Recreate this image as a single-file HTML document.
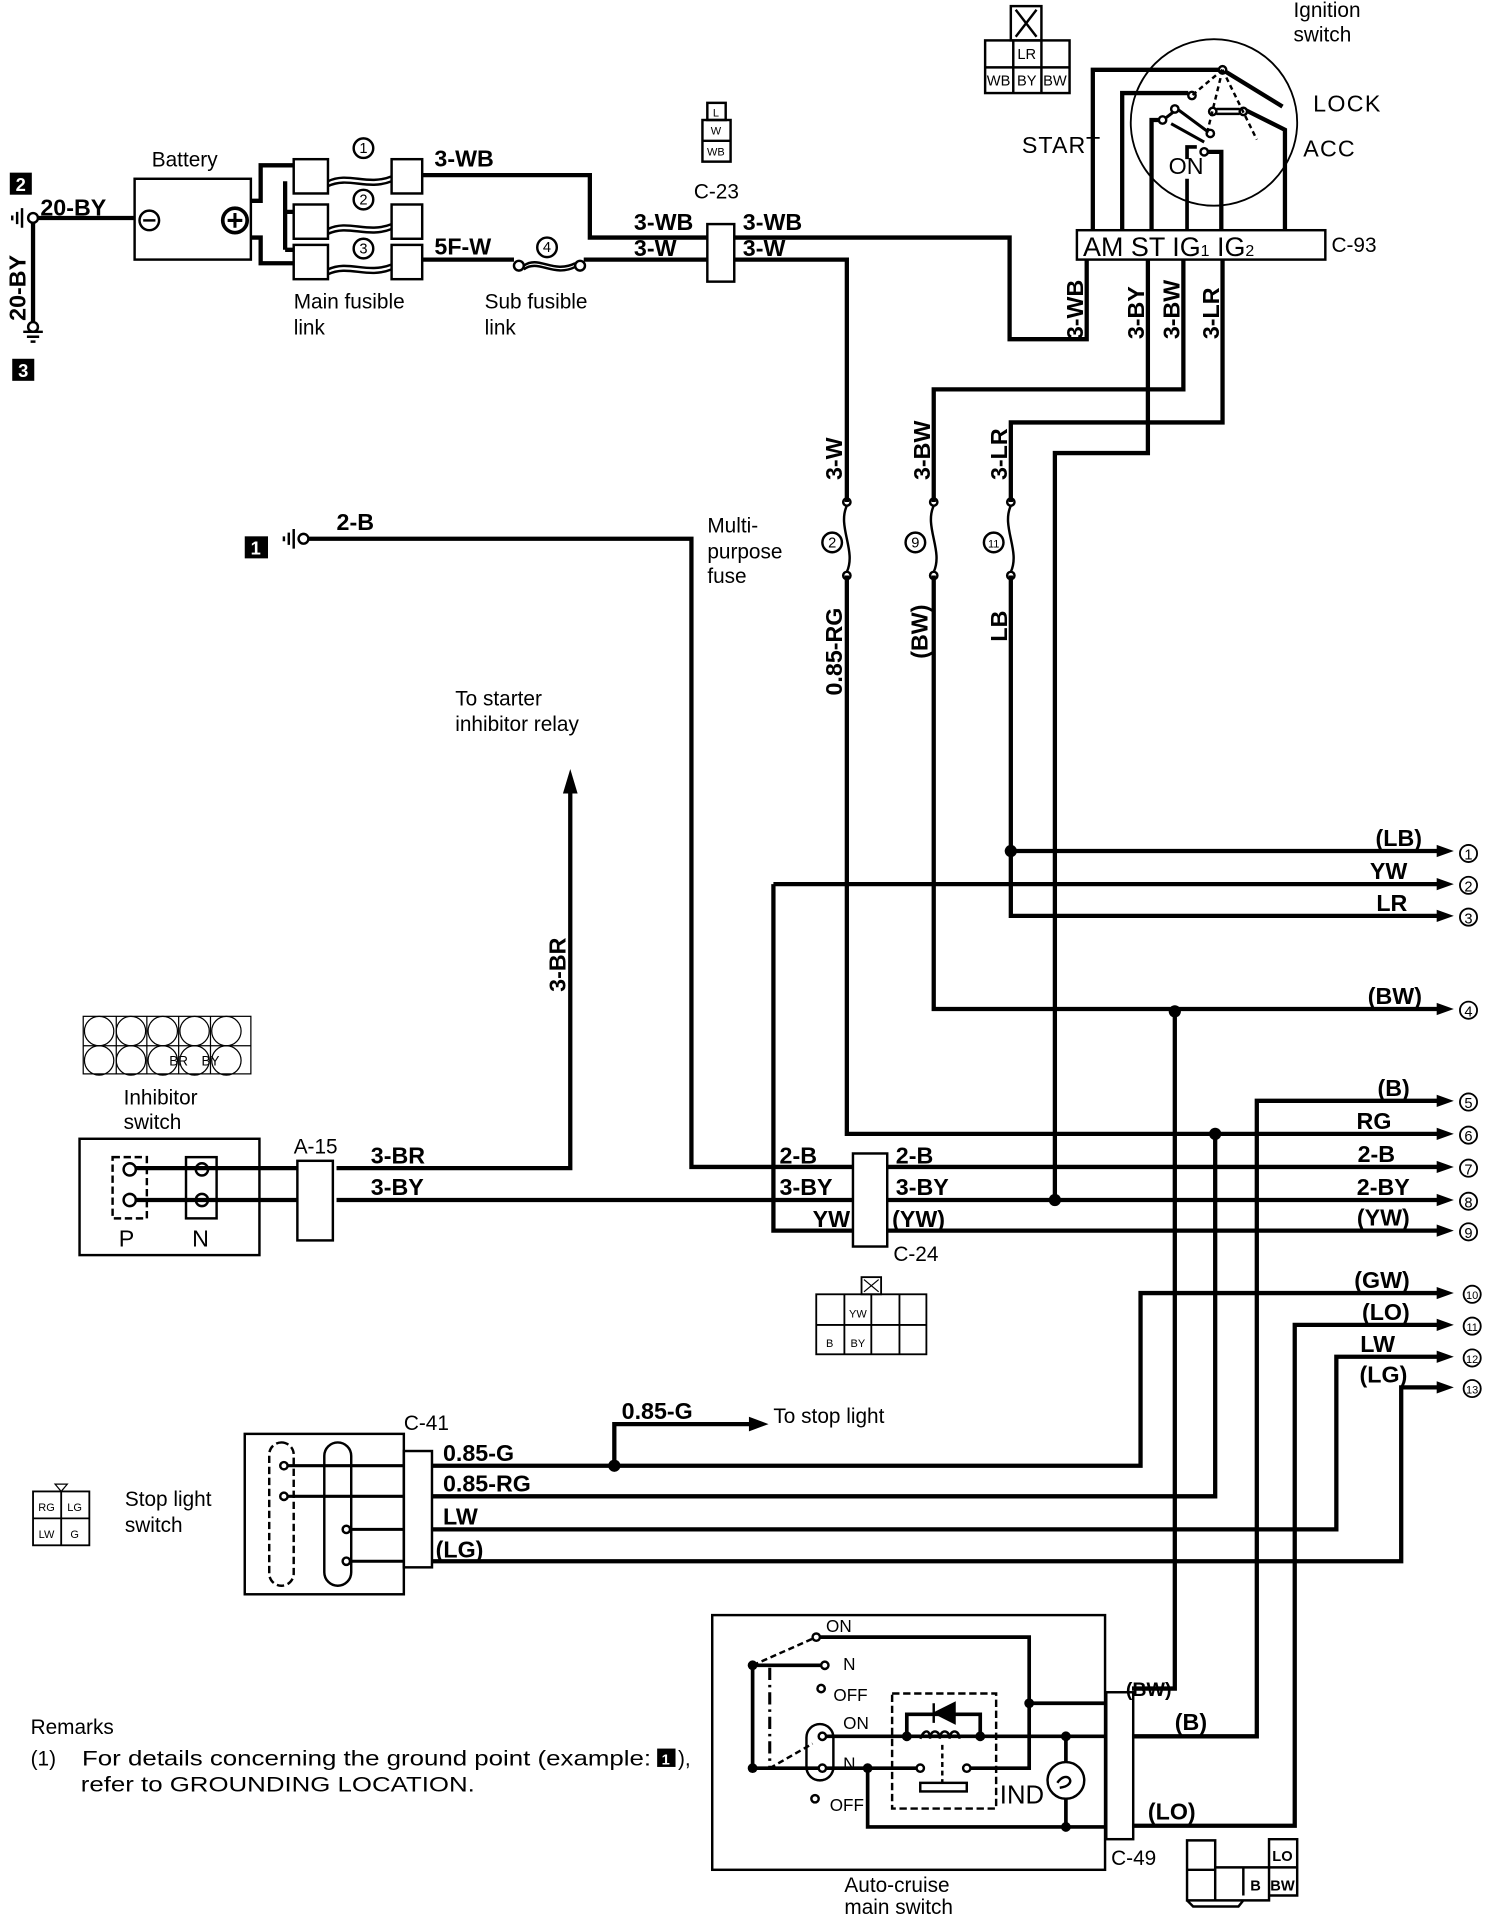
<!DOCTYPE html>
<html><head><meta charset="utf-8"><style>
html,body{margin:0;padding:0;background:#fff;}
svg{display:block;}
text{font-family:"Liberation Sans",sans-serif;fill:#000;}
.w{font-family:"DejaVu Sans Condensed","Liberation Sans Narrow","Liberation Sans",sans-serif;font-weight:bold;font-size:19px;}
.n{font-size:17px;}
.s{font-size:9px;}
.c{font-family:"DejaVu Sans Condensed","Liberation Sans",sans-serif;font-size:14px;}
</style></head><body>
<svg width="1504" height="1920" viewBox="0 0 1229 1568" preserveAspectRatio="none" xmlns="http://www.w3.org/2000/svg">
<g fill="none" stroke="#000" stroke-width="3.5" stroke-linejoin="miter">
<path d="M27 178 V265 M27 178 H110"/>
<path d="M205 164 H213 V135 H240 M205 194 H213 V215 H240 M233 148 V204 M233 173 H240 M233 204 H240"/>
<path d="M345 143 H482 V194 H578"/>
<path d="M345 212 H420 M477 212 H578"/>
<path d="M600 194 H825 V277 H888 V212"/>
<path d="M600 212 H692 V410 M692 470 V926 H1180"/>
<path d="M938 212 V370 H862 V980"/>
<path d="M967 212 V318 H763 V410 M763 470 V824 H1180"/>
<path d="M999 212 V345 H826 V410 M826 470 V748 H1180 M826 695 H1180"/>
<path d="M632 722 H1180 M632 722 V1005 H697 M725 1005 H1180"/>
<path d="M250 440 H565 V953 H697 M725 953 H1180"/>
<path d="M275 954 H466 V640 M275 980 H697 M725 980 H1180"/>
<path d="M110 954 H243 M110 980 H243"/>
<path d="M960 826 V1379 H925"/>
<path d="M1180 899 H1027 V1418 H925"/>
<path d="M993 926 V1222 H353"/>
<path d="M1180 1056 H932 V1197 H353"/>
<path d="M1180 1082 H1058 V1491 H925"/>
<path d="M1180 1108 H1092 V1249 H353"/>
<path d="M1180 1133 H1145 V1275 H353"/>
<path d="M502 1197 V1163 H615"/>
<path d="M893 188 V57 H999 L1048 87"/>
<path d="M917 188 V76 H971"/>
<path d="M941 188 V98 H947"/>
<path d="M953 96 L962 89 M962 89 L989 109 M957 101 L984 116" stroke-width="2.5"/>
<path d="M970 188 V146 M970 130 V120 H978" stroke-width="3"/>
<path d="M987 124 H998 V188"/>
<path d="M994 89 H1013 M994 93 H1013" stroke-width="2"/>
<path d="M1016 89 L1050 106 V188"/>
</g>
<g fill="#000">
<path d="M466 628 L460 648 L472 648Z"/>
<path d="M628 1163 L612 1157 L612 1169Z"/>
<path d="M1188 695 l-14 -5 v10Z M1188 722 l-14 -5 v10Z M1188 748 l-14 -5 v10Z M1188 824 l-14 -5 v10Z M1188 899 l-14 -5 v10Z M1188 926 l-14 -5 v10Z M1188 953 l-14 -5 v10Z M1188 980 l-14 -5 v10Z M1188 1005 l-14 -5 v10Z M1188 1056 l-14 -5 v10Z M1188 1082 l-14 -5 v10Z M1188 1108 l-14 -5 v10Z M1188 1133 l-14 -5 v10Z"/>
<circle cx="826" cy="695" r="5"/><circle cx="960" cy="826" r="5"/><circle cx="993" cy="926" r="5"/><circle cx="862" cy="980" r="5"/><circle cx="502" cy="1197" r="5"/>
</g>
<g font-size="14" text-anchor="middle">
<g fill="none" stroke="#000" stroke-width="1.5">
<circle cx="1200" cy="697" r="7"/><circle cx="1200" cy="723" r="7"/><circle cx="1200" cy="749" r="7"/><circle cx="1200" cy="825" r="7"/><circle cx="1200" cy="900" r="7"/><circle cx="1200" cy="927" r="7"/><circle cx="1200" cy="954" r="7"/><circle cx="1200" cy="981" r="7"/><circle cx="1200" cy="1006" r="7"/><circle cx="1203" cy="1057" r="7"/><circle cx="1203" cy="1083" r="7"/><circle cx="1203" cy="1109" r="7"/><circle cx="1203" cy="1134" r="7"/>
</g>
<text x="1200" y="702" font-size="12">1</text><text x="1200" y="728" font-size="12">2</text><text x="1200" y="754" font-size="12">3</text><text x="1200" y="830" font-size="12">4</text><text x="1200" y="905" font-size="12">5</text><text x="1200" y="932" font-size="12">6</text><text x="1200" y="959" font-size="12">7</text><text x="1200" y="986" font-size="12">8</text><text x="1200" y="1011" font-size="12">9</text><text x="1203" y="1061" font-size="9">10</text><text x="1203" y="1087" font-size="9">11</text><text x="1203" y="1113" font-size="9">12</text><text x="1203" y="1138" font-size="9">13</text>
</g>
<g class="w" text-anchor="end">
<text x="1162" y="691">(LB)</text><text x="1150" y="718">YW</text><text x="1150" y="744">LR</text><text x="1162" y="820">(BW)</text><text x="1152" y="895">(B)</text><text x="1137" y="922">RG</text><text x="1140" y="949">2-B</text><text x="1152" y="976">2-BY</text><text x="1152" y="1001">(YW)</text><text x="1152" y="1052">(GW)</text><text x="1152" y="1078">(LO)</text><text x="1140" y="1104">LW</text><text x="1150" y="1129">(LG)</text>
</g>
<g class="w">
<text x="33" y="176">20-BY</text><text x="355" y="136">3-WB</text><text x="355" y="208">5F-W</text>
<text x="518" y="188">3-WB</text><text x="518" y="209">3-W</text><text x="607" y="188">3-WB</text><text x="607" y="209">3-W</text>
<text x="275" y="433">2-B</text>
<text x="303" y="950">3-BR</text><text x="303" y="976">3-BY</text>
<text x="637" y="950">2-B</text><text x="637" y="976">3-BY</text><text x="664" y="1002">YW</text>
<text x="732" y="950">2-B</text><text x="732" y="976">3-BY</text><text x="729" y="1002">(YW)</text>
<text x="508" y="1159">0.85-G</text>
<text x="362" y="1193">0.85-G</text><text x="362" y="1218">0.85-RG</text><text x="362" y="1245">LW</text><text x="356" y="1272">(LG)</text>
<text x="920" y="1385" font-size="16">(BW)</text><text x="960" y="1413">(B)</text><text x="938" y="1486">(LO)</text>
<text x="835" y="125" font-weight="normal" textLength="64">START</text><text x="1073" y="91" font-weight="normal" textLength="55">LOCK</text><text x="1065" y="128" font-weight="normal" textLength="42">ACC</text><text x="955" y="142" font-weight="normal">ON</text>
<text x="885" y="209" font-size="22" font-weight="normal">AM ST IG<tspan font-size="13">1</tspan> IG<tspan font-size="13">2</tspan></text>
</g>
<g class="w">
<text transform="translate(21,262) rotate(-90)">20-BY</text>
<text transform="translate(885,277) rotate(-90)">3-WB</text>
<text transform="translate(935,277) rotate(-90)">3-BY</text>
<text transform="translate(964,277) rotate(-90)">3-BW</text>
<text transform="translate(996,277) rotate(-90)">3-LR</text>
<text transform="translate(688,392) rotate(-90)">3-W</text>
<text transform="translate(760,392) rotate(-90)">3-BW</text>
<text transform="translate(823,392) rotate(-90)">3-LR</text>
<text transform="translate(688,568) rotate(-90)">0.85-RG</text>
<text transform="translate(758,538) rotate(-90)">(BW)</text>
<text transform="translate(823,524) rotate(-90)">LB</text>
<text transform="translate(462,810) rotate(-90)">3-BR</text>
</g>
<g class="n">
<text x="124" y="136">Battery</text>
<text x="240" y="252">Main  fusible</text><text x="240" y="273">link</text>
<text x="396" y="252">Sub  fusible</text><text x="396" y="273">link</text>
<text x="567" y="162">C-23</text>
<text x="1057" y="14">Ignition</text><text x="1057" y="34">switch</text>
<text x="1088" y="206">C-93</text>
<text x="578" y="435">Multi-</text><text x="578" y="456">purpose</text><text x="578" y="476">fuse</text>
<text x="372" y="576">To  starter</text><text x="372" y="597">inhibitor  relay</text>
<text x="101" y="902">Inhibitor</text><text x="101" y="922">switch</text>
<text x="240" y="942">A-15</text>
<text x="730" y="1030">C-24</text>
<text x="632" y="1162">To  stop  light</text>
<text x="330" y="1168">C-41</text>
<text x="102" y="1230">Stop  light</text><text x="102" y="1251">switch</text>
<text x="25" y="1416">Remarks</text>
<text x="25" y="1442">(1)</text>
<text x="67" y="1442" textLength="465" lengthAdjust="spacingAndGlyphs">For details concerning the ground point (example:</text>
<text x="554" y="1442">),</text>
<text x="66" y="1463" textLength="322" lengthAdjust="spacingAndGlyphs">refer to GROUNDING LOCATION.</text>
<text x="908" y="1523">C-49</text>
<text x="690" y="1545">Auto-cruise</text><text x="690" y="1563">main  switch</text>
<text x="97" y="1018" font-size="19">P</text><text x="157" y="1018" font-size="19">N</text>
</g>
<g fill="#000"><rect x="8" y="141" width="18" height="18"/><rect x="10" y="293" width="18" height="18"/><rect x="200" y="438" width="19" height="18"/><rect x="537" y="1428" width="15" height="15"/></g>
<g font-weight="bold" font-size="15" text-anchor="middle"><text x="17" y="156" style="fill:#fff">2</text><text x="19" y="308" style="fill:#fff">3</text><text x="209" y="453" style="fill:#fff">1</text><text x="544" y="1441" style="fill:#fff" font-size="12">1</text></g>
<g fill="none" stroke="#000" stroke-width="2">
<circle cx="27" cy="178" r="4" fill="#fff"/><path d="M18 170 V186 M14 173 V183 M10 176 V180"/>
<circle cx="27" cy="267" r="4" fill="#fff"/><path d="M19 271 H35 M22 275 H32 M25 279 H29"/>
<circle cx="248" cy="440" r="4" fill="#fff"/><path d="M240 432 V448 M236 435 V445 M232 438 V442"/>
<rect x="110" y="146" width="95" height="66"/>
<circle cx="122" cy="180" r="8"/><path d="M117 180 H127"/>
<circle cx="192" cy="180" r="10" stroke-width="3"/><path d="M186 180 H198 M192 174 V186" stroke-width="2.5"/>
<rect x="240" y="130" width="28" height="28"/><rect x="240" y="167" width="28" height="28"/><rect x="240" y="200" width="28" height="28"/>
<rect x="320" y="130" width="25" height="28"/><rect x="320" y="167" width="25" height="28"/><rect x="320" y="200" width="25" height="28"/>
<path d="M268 148 C285 140 300 152 320 144 M268 152 C285 144 300 156 320 148"/>
<path d="M268 187 C285 179 300 191 320 183 M268 191 C285 183 300 195 320 187"/>
<path d="M268 220 C285 212 300 224 320 216 M268 224 C285 216 300 228 320 220"/>
<circle cx="297" cy="121" r="8"/><circle cx="297" cy="163" r="8"/><circle cx="297" cy="203" r="8"/><circle cx="447" cy="202" r="8"/>
<circle cx="424" cy="217" r="4"/><circle cx="474" cy="217" r="4"/><path d="M428 217 C440 208 452 224 470 215 M428 220 C440 211 452 227 470 218"/>
<rect x="578" y="183" width="22" height="47"/>
<rect x="578" y="84" width="15" height="14"/><rect x="574" y="98" width="23" height="34"/><path d="M574 115 H597"/>
<circle cx="992" cy="100" r="68" stroke-width="1.5"/>
<rect x="880" y="188" width="203" height="24"/>
<circle cx="999" cy="57" r="3" fill="#fff"/><circle cx="974" cy="78" r="3" fill="#fff"/><circle cx="950" cy="98" r="3" fill="#fff"/><circle cx="960" cy="89" r="3" fill="#fff"/><circle cx="989" cy="109" r="3" fill="#fff"/><circle cx="984" cy="124" r="3" fill="#fff"/><circle cx="991" cy="91" r="3" fill="#fff"/><circle cx="1016" cy="91" r="3" fill="#fff"/>
<path d="M999 57 L974 78 M999 57 L986 110 M999 57 L1027 114" stroke-dasharray="4 3"/>
<rect x="826" y="5" width="25" height="28"/><path d="M830 8 L847 30 M847 8 L830 30"/><rect x="805" y="33" width="69" height="43"/><path d="M805 55 H874 M828 33 V76 M851 33 V76"/>
<circle cx="692" cy="410" r="3"/><circle cx="692" cy="470" r="3"/><path d="M692 413 C684 430 700 450 692 467"/>
<circle cx="763" cy="410" r="3"/><circle cx="763" cy="470" r="3"/><path d="M763 413 C755 430 771 450 763 467"/>
<circle cx="826" cy="410" r="3"/><circle cx="826" cy="470" r="3"/><path d="M826 413 C818 430 834 450 826 467"/>
<circle cx="680" cy="443" r="8"/><circle cx="748" cy="443" r="8"/><circle cx="812" cy="443" r="8"/>
<rect x="65" y="930" width="147" height="95"/>
<rect x="92" y="945" width="28" height="50" stroke-dasharray="6 3"/><rect x="152" y="945" width="25" height="50"/>
<circle cx="106" cy="955" r="5"/><circle cx="106" cy="980" r="5"/><circle cx="165" cy="955" r="5"/><circle cx="165" cy="980" r="5"/>
<path d="M111 954 H160 M111 980 H160" stroke-width="3"/>
<rect x="243" y="948" width="29" height="65"/>
<rect x="68" y="830" width="137" height="47" stroke-width="1"/>
<g stroke-width="1"><circle cx="81" cy="842" r="12"/><circle cx="107" cy="842" r="12"/><circle cx="133" cy="842" r="12"/><circle cx="159" cy="842" r="12"/><circle cx="185" cy="842" r="12"/><circle cx="81" cy="866" r="12"/><circle cx="107" cy="866" r="12"/><circle cx="133" cy="866" r="12"/><circle cx="159" cy="866" r="12"/><circle cx="185" cy="866" r="12"/><path d="M68 854 H205 M95 830 V877 M120 830 V877 M146 830 V877 M172 830 V877"/></g>
<rect x="697" y="942" width="28" height="76"/>
<rect x="667" y="1057" width="90" height="49" stroke-width="1.5"/><path d="M667 1082 H757 M690 1057 V1106 M712 1057 V1106 M735 1057 V1106" stroke-width="1.5"/><rect x="704" y="1043" width="16" height="14" stroke-width="1.5"/><path d="M706 1045 L718 1055 M718 1045 L706 1055" stroke-width="1"/>
<rect x="200" y="1171" width="130" height="131"/>
<rect x="220" y="1178" width="20" height="117" rx="10" stroke-dasharray="6 3"/>
<rect x="265" y="1178" width="22" height="117" rx="11"/>
<circle cx="232" cy="1197" r="3"/><circle cx="232" cy="1222" r="3"/><circle cx="283" cy="1249" r="3"/><circle cx="283" cy="1275" r="3"/>
<path d="M235 1197 H330 M235 1222 H330 M286 1249 H330 M286 1275 H330" stroke-width="2.5"/>
<rect x="330" y="1185" width="23" height="95"/>
<rect x="27" y="1218" width="46" height="44" stroke-width="1.5"/><path d="M27 1240 H73 M50 1218 V1262" stroke-width="1.5"/><path d="M45 1212 H55 L50 1218Z" stroke-width="1"/>
<rect x="582" y="1319" width="321" height="208"/>
<rect x="904" y="1382" width="22" height="120"/>
<g stroke-width="3">
<path d="M667 1337 H841 V1444 H790"/>
<path d="M841 1391 H904"/>
<path d="M615 1360 H671 M615 1360 V1444 H752"/>
<path d="M709 1444 V1492 H904"/>
<path d="M672 1418 H904"/>
<path d="M741 1418 V1400 H801 V1418"/>
<path d="M871 1418 V1439 M871 1469 V1492"/>
</g>
<path d="M615 1360 L667 1337 M629 1444 L664 1424" stroke-dasharray="5 3"/>
<path d="M629 1362 V1444" stroke-dasharray="10 4 2 4" stroke-width="2.5"/>
<circle cx="667" cy="1337" r="3" fill="#fff"/><circle cx="674" cy="1360" r="3" fill="#fff"/><circle cx="671" cy="1379" r="3"/><circle cx="672" cy="1418" r="3" fill="#fff"/><circle cx="672" cy="1444" r="3" fill="#fff"/><circle cx="666" cy="1469" r="3"/>
<rect x="659" y="1408" width="22" height="46" rx="11"/>
<rect x="729" y="1383" width="85" height="94" stroke-dasharray="6 3"/>
<path d="M752 1420 c3 -8 8 -8 8 0 c0 -8 8 -8 8 0 c0 -8 8 -8 8 0 c0 -8 8 -8 8 0" stroke-width="2"/>
<path d="M780 1391 L764 1399 L780 1407Z M763 1391 V1407" fill="#000"/>
<rect x="752" y="1456" width="38" height="7"/>
<circle cx="752" cy="1444" r="3" fill="#fff"/><circle cx="790" cy="1444" r="3" fill="#fff"/>
<path d="M770 1425 V1456" stroke-dasharray="4 3"/>
<circle cx="871" cy="1454" r="15"/><path d="M864 1456 C872 1444 882 1458 866 1460"/>
<path d="M970 1503 H993 V1552 H970Z M970 1527 H993 M993 1525 H1037 V1552 H993 M1016 1525 V1548 M1037 1502 H1060 V1548 H1037Z M1037 1525 H1060 M970 1552 L975 1557 H1012 L1016 1552"/>
</g>
<g fill="#000">
<circle cx="615" cy="1360" r="4"/><circle cx="615" cy="1444" r="4"/><circle cx="841" cy="1391" r="4"/><circle cx="871" cy="1418" r="4"/><circle cx="871" cy="1492" r="4"/><circle cx="709" cy="1444" r="4"/><circle cx="741" cy="1418" r="4"/><circle cx="801" cy="1418" r="4"/>
</g>
<g class="c">
<text x="675" y="1333">ON</text><text x="689" y="1364">N</text><text x="681" y="1389">OFF</text><text x="689" y="1412">ON</text><text x="689" y="1445">N</text><text x="678" y="1479">OFF</text>
<text x="817" y="1473" font-size="21">IND</text>
</g>
<g font-size="12" text-anchor="middle">
<text x="297" y="125">1</text><text x="297" y="167">2</text><text x="297" y="207">3</text><text x="447" y="206">4</text>
<text x="680" y="447">2</text><text x="748" y="447">9</text><text x="812" y="447" font-size="9">11</text>
</g>
<g class="s" text-anchor="middle">
<text x="585" y="95">L</text><text x="585" y="110">W</text><text x="585" y="127">WB</text>
<text x="839" y="48" font-size="12">LR</text><text x="816" y="70" font-size="12">WB</text><text x="839" y="70" font-size="12">BY</text><text x="862" y="70" font-size="12">BW</text>
<text x="146" y="870" font-size="11">BR</text><text x="172" y="870" font-size="11">BY</text>
<text x="701" y="1076">YW</text><text x="678" y="1100">B</text><text x="701" y="1100">BY</text>
<text x="38" y="1234">RG</text><text x="61" y="1234">LG</text><text x="38" y="1256">LW</text><text x="61" y="1256">G</text>
<text x="1048" y="1520" font-size="12" font-weight="bold">LO</text><text x="1026" y="1544" font-size="12" font-weight="bold">B</text><text x="1048" y="1544" font-size="12" font-weight="bold">BW</text>
</g>
</svg>
</body></html>
